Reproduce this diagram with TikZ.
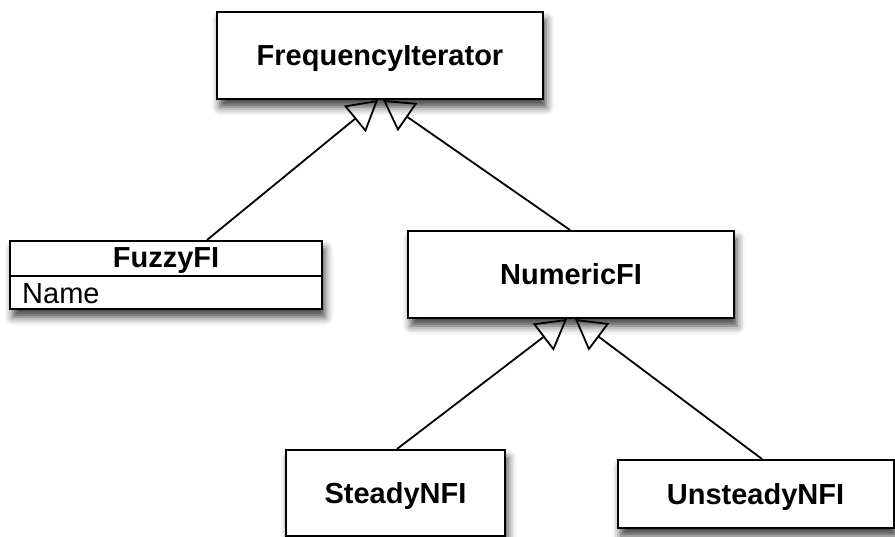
\documentclass[tikz,border=0pt]{standalone}
\usepackage{fontspec}
\setmainfont{Liberation Sans}
\usetikzlibrary{arrows.meta,shadows.blur}
\begin{document}
\begin{tikzpicture}[x=1pt,y=-1pt,
  lbl/.style={font=\fontsize{29}{34}\selectfont, text height=21pt, text depth=0pt, inner sep=0pt},
  cls/.style={draw, line width=2pt, fill=white, rectangle, inner sep=0pt,
    font=\fontsize{29}{34}\selectfont\bfseries, text height=21pt, text depth=0pt,
    blur shadow={shadow xshift=3pt, shadow yshift=-8pt, shadow blur radius=8pt, shadow opacity=75}},
  gen/.style={line width=1.8pt, -{Triangle[open, length=30pt, width=34pt, line width=1.8pt]}},
]
\useasboundingbox (0,0) rectangle (895,537);
\node[cls, minimum width=326pt, minimum height=87pt] (freq) at (380,55.5) {FrequencyIterator};
\node[cls, minimum width=312pt, minimum height=68pt] (fuzzy) at (166,275) {};
\draw[line width=1.6pt] ([yshift=-1pt]fuzzy.west) -- ([yshift=-1pt]fuzzy.east);
\node[lbl, font=\fontsize{29}{34}\selectfont\bfseries] (fuzzytitle) at (166,257) {FuzzyFI};
\node[lbl, anchor=west] (fuzzyname) at (22,293) {Name};
\node[cls, minimum width=326pt, minimum height=87pt] (numeric) at (571,274.5) {NumericFI};
\node[cls, minimum width=219pt, minimum height=86pt] (steady) at (395.5,493) {SteadyNFI};
\node[cls, minimum width=276pt, minimum height=68pt] (unsteady) at (755.5,494) {UnsteadyNFI};
\draw[gen] ([xshift=41pt]fuzzy.north) -- ([xshift=-2pt]freq.south);
\draw[gen] ([xshift=-1pt]numeric.north) -- ([xshift=3pt]freq.south);
\draw[gen] ([xshift=1.5pt]steady.north) -- ([xshift=-4pt]numeric.south);
\draw[gen] ([xshift=6.5pt]unsteady.north) -- ([xshift=4pt]numeric.south);
\end{tikzpicture}
\end{document}
